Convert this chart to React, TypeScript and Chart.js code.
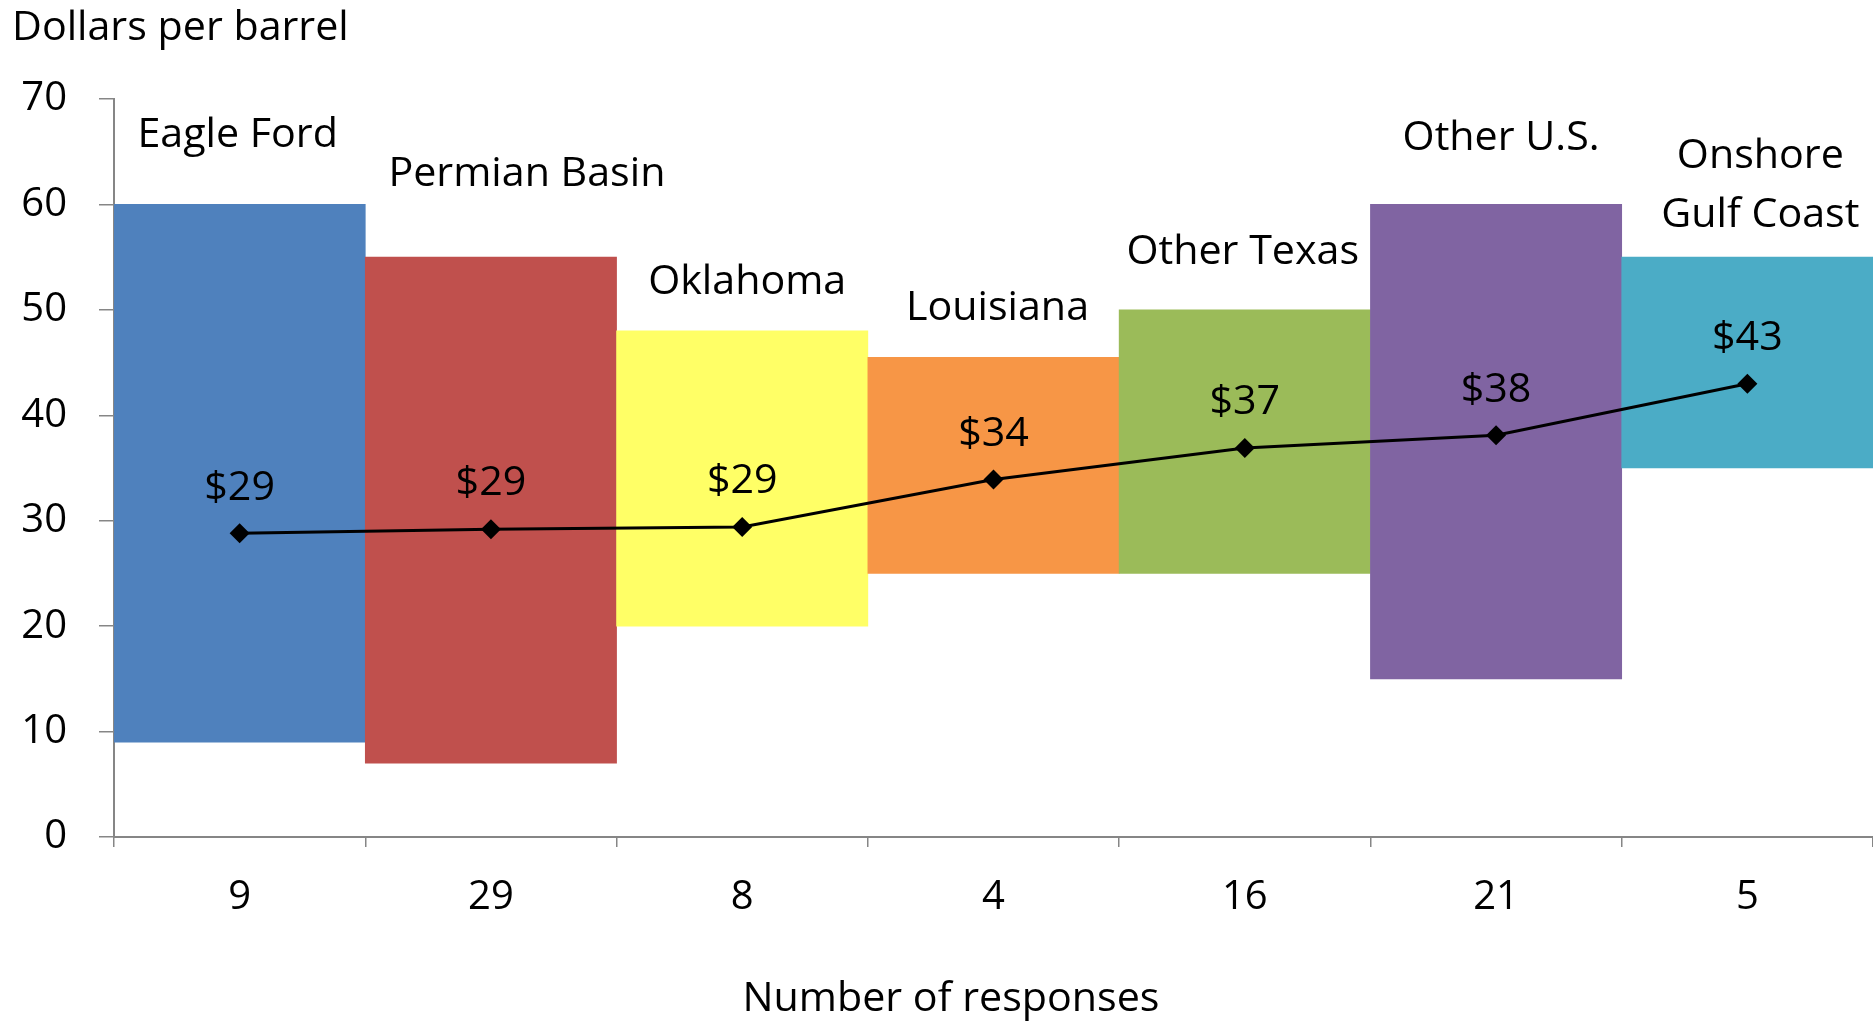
import React, { useEffect, useRef } from "react";
import { Chart, registerables } from "chart.js";

Chart.register(...registerables);

const regions = ["Eagle Ford", "Permian Basin", "Oklahoma", "Louisiana", "Other Texas", "Other U.S.", "Onshore Gulf Coast"];
const responses = ["9", "29", "8", "4", "16", "21", "5"];
const lows = [9, 7, 20, 25, 25, 15, 35];
const highs = [60, 55, 48, 45.5, 50, 60, 55];
const averages = [28.8, 29.2, 29.4, 33.9, 36.9, 38.1, 43.0];
const colors = ["#4F81BD", "#C0504D", "#FFFF66", "#F79646", "#9BBB59", "#8064A2", "#4BACC6"];
const yTicks = [0, 10, 20, 30, 40, 50, 60, 70];

// label layout (styling, not data)
const regionLabelLines = [["Eagle Ford"], ["Permian Basin"], ["Oklahoma"], ["Louisiana"], ["Other Texas"], ["Other U.S."], ["Onshore", "Gulf Coast"]];
const regionLabelAt = [66.8, 63.1, 52.9, 50.4, 55.7, 66.5, 64.8];
const regionLabelDx = [-2, 36, 5, 4, -2, 5, 13];

const FONT = "'Open Sans'";
const FS = 40;
const CAP = FS * 0.714;
const SX = 1.03;

const textPlugin = {
  id: "textPlugin",
  afterDatasetsDraw(chart: any) {
    const ctx = chart.ctx;
    const xs = chart.scales.x;
    const ys = chart.scales.y;
    const put = (t: string, x: number, y: number) => {
      ctx.save();
      ctx.translate(x, y);
      ctx.scale(SX, 1);
      ctx.fillText(t, 0, 0);
      ctx.restore();
    };
    ctx.save();
    ctx.font = `${FS}px ${FONT}`;
    ctx.fillStyle = "#000";
    ctx.textAlign = "center";
    ctx.textBaseline = "alphabetic";
    regionLabelLines.forEach((lines, i) => {
      const cx = xs.getPixelForValue(i) + regionLabelDx[i];
      const cy = ys.getPixelForValue(regionLabelAt[i]);
      lines.forEach((ln, j) => put(ln, cx, cy + j * 59 + CAP / 2));
    });
    const meta = chart.getDatasetMeta(1);
    meta.data.forEach((pt: any, i: number) => {
      put("$" + Math.round(averages[i]), pt.x, pt.y - 48 + CAP / 2);
    });
    ctx.textAlign = "left";
    put("Dollars per barrel", 12, 26 + CAP / 2);
    ctx.textAlign = "center";
    put("Number of responses", 951, 997 + CAP / 2);
    ctx.restore();
  },
};

export default function App() {
  const ref = useRef<HTMLCanvasElement>(null);
  useEffect(() => {
    document.body.style.margin = "0";
    const chart = new Chart(ref.current!, {
      type: "bar",
      data: {
        labels: responses,
        datasets: [
          {
            type: "bar",
            label: "Range",
            data: lows.map((l, i) => [l, highs[i]]) as any,
            backgroundColor: colors,
            borderWidth: 0,
            barPercentage: 1,
            categoryPercentage: 1,
            order: 1,
          },
          {
            type: "line",
            label: "Average",
            data: averages,
            borderColor: "#000",
            borderWidth: 3,
            pointStyle: "rectRot",
            pointRadius: 10,
            pointBackgroundColor: "#000",
            pointBorderWidth: 0,
            order: 0,
          } as any,
        ],
      },
      options: {
        responsive: false,
        animation: false,
        layout: { autoPadding: false, padding: { top: 99, left: 0, right: 0, bottom: 0 } },
        plugins: { legend: { display: false }, tooltip: { enabled: false } },
        scales: {
          x: {
            offset: true,
            grid: { offset: true, drawOnChartArea: false, drawTicks: true, tickLength: 10, color: "#868686", lineWidth: 1.5 },
            border: { display: true, color: "#868686", width: 2 },
            ticks: { color: "#000", font: { family: FONT, size: FS }, padding: 27 },
            afterFit: (s: any) => { s.height = 184; s.paddingLeft = 0; s.paddingRight = 0; },
          },
          y: {
            min: 0,
            max: 70,
            afterBuildTicks: (s: any) => { s.ticks = yTicks.map((v) => ({ value: v })); },
            grid: { drawOnChartArea: false, drawTicks: true, tickLength: 15, color: "#868686", lineWidth: 1.5 },
            border: { display: true, color: "#868686", width: 2 },
            ticks: { color: "#000", font: { family: FONT, size: FS }, padding: 32 },
            afterFit: (s: any) => { s.width = 114; },
          },
        },
      },
      plugins: [textPlugin],
    });
    return () => chart.destroy();
  }, []);
  return <canvas ref={ref} width={1873} height={1021} style={{ display: "block" }} />;
}
